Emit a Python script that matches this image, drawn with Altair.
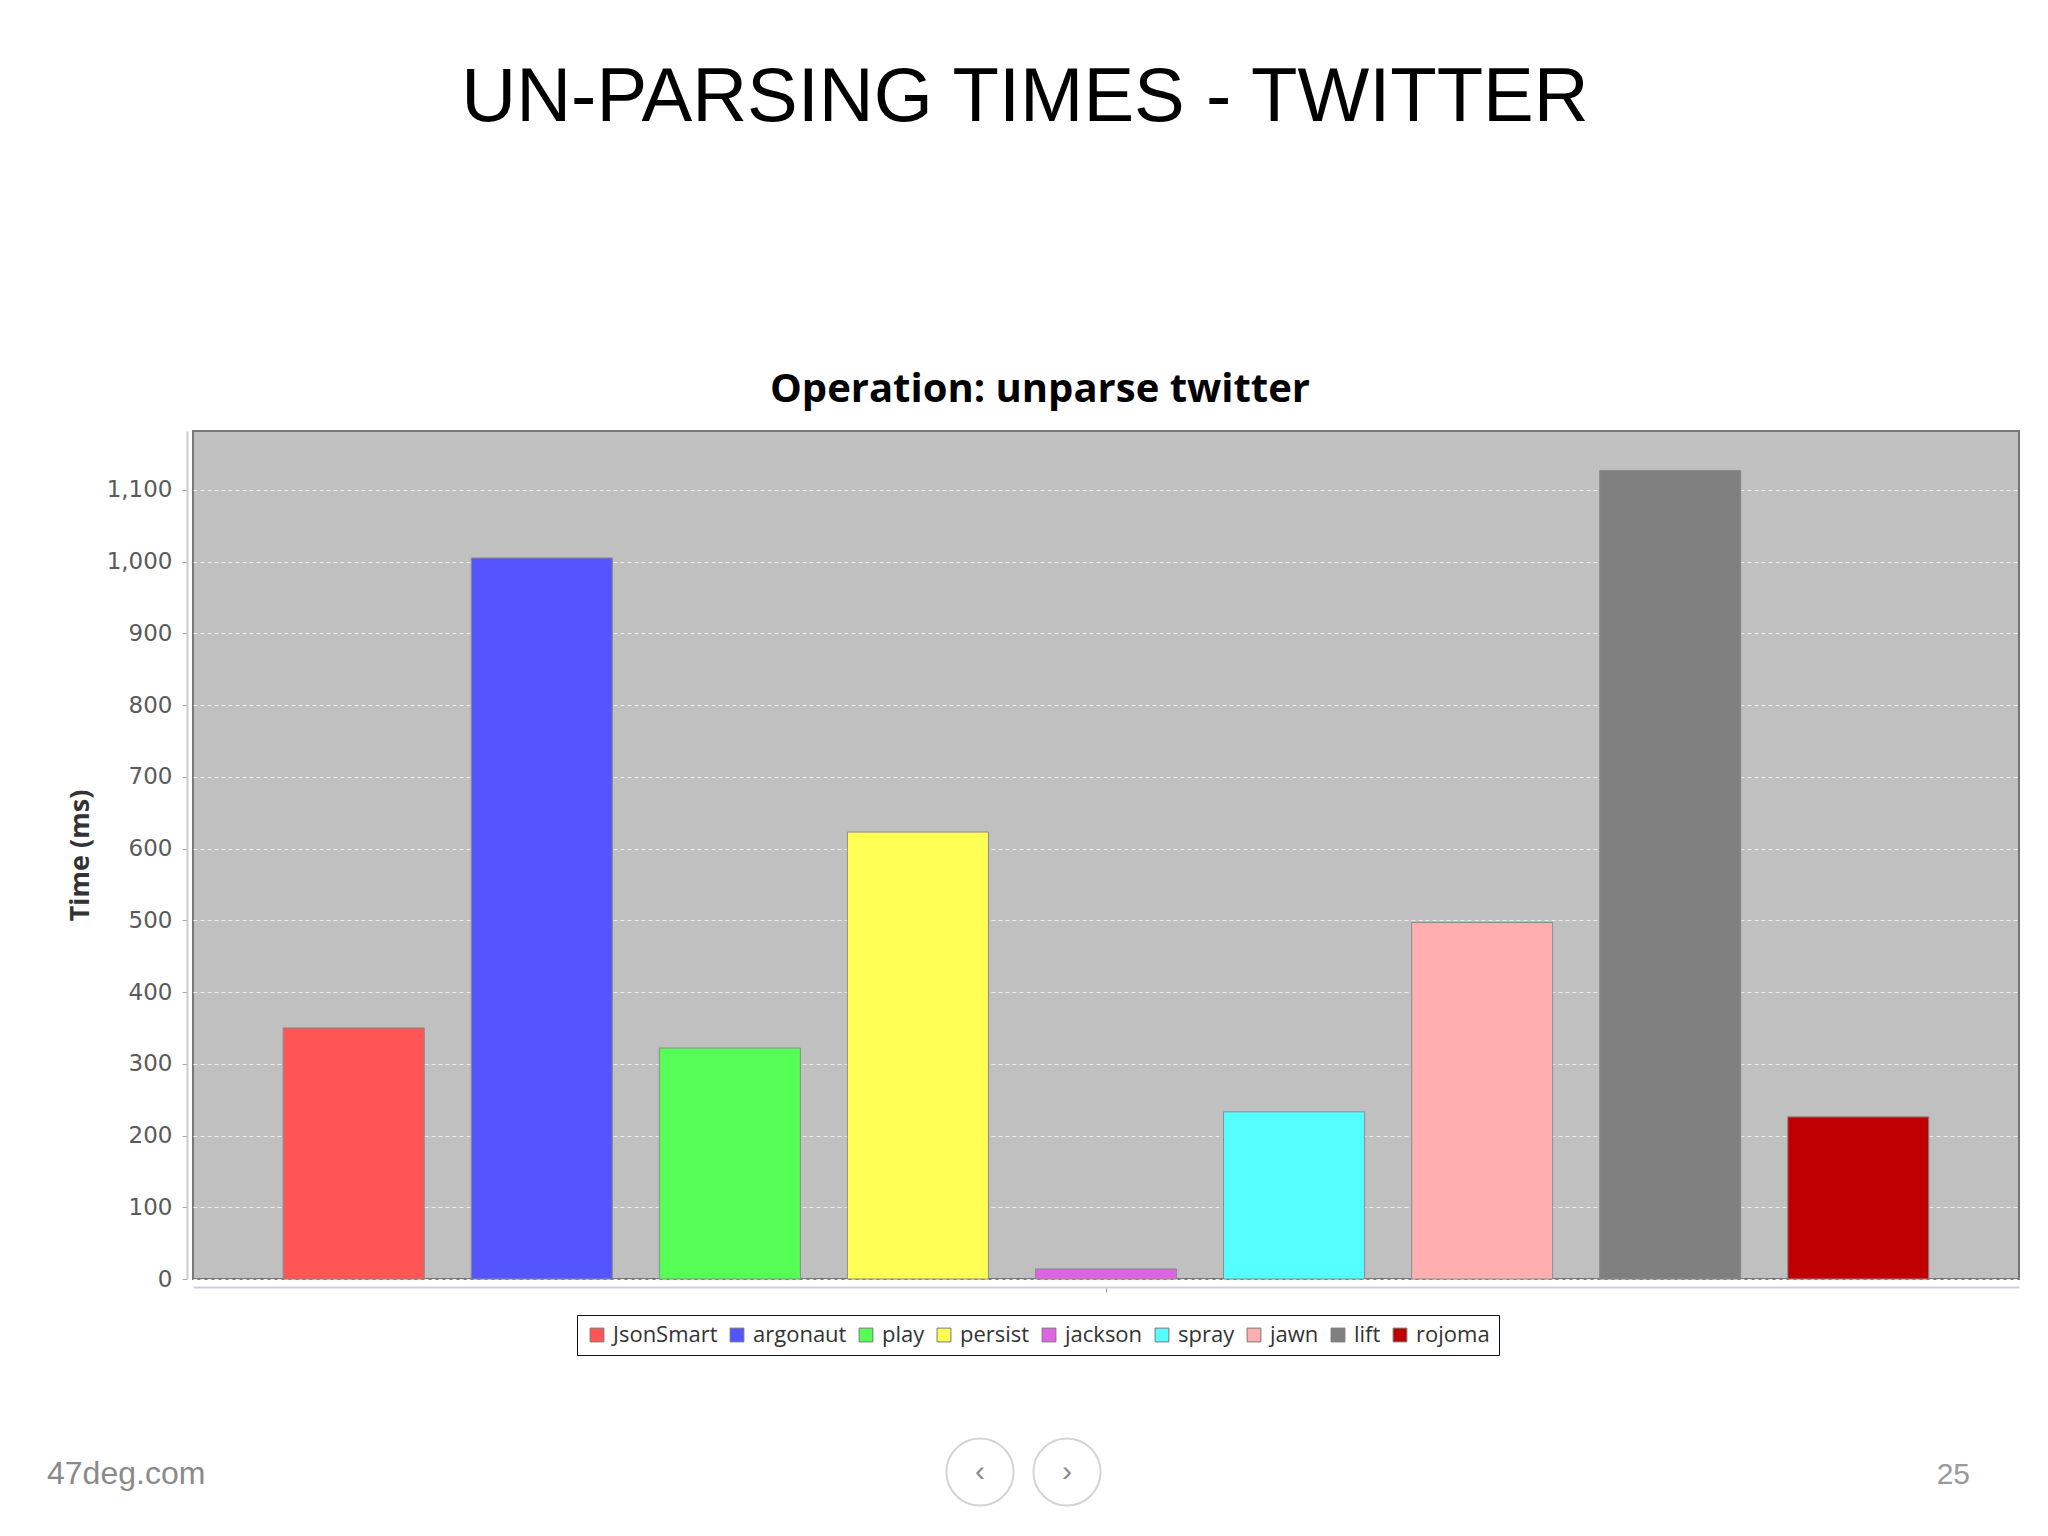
import altair as alt
import pandas as pd

# ---- data ----
series = ["JsonSmart", "argonaut", "play", "persist", "jackson", "spray", "jawn", "lift", "rojoma"]
times = [350, 1005, 322, 623, 14, 233, 497, 1127, 226]
colors = ["#FF5555", "#5555FF", "#55FF55", "#FFFF55", "#DD66E0", "#55FFFF", "#FFAFAF", "#808080", "#C00000"]
category = "twitter"
y_ticks = list(range(0, 1200, 100))

slide_title = "UN-PARSING TIMES - TWITTER"
chart_title = "Operation: unparse twitter"
footer_left = "47deg.com"
footer_right = "25"

df = pd.DataFrame({"cat": [category] * len(series), "series": series, "time": times})

W, H = 1826, 848

bars = alt.Chart(df).mark_bar(stroke="#8a8a8a", strokeWidth=1).encode(
    x=alt.X("cat:N",
            scale=alt.Scale(paddingInner=0, paddingOuter=0.0394),
            axis=alt.Axis(labels=False, title=None, domainColor="#cfcfdc", domainWidth=2,
                          tickColor="#999999", tickSize=5, offset=8, grid=False)),
    xOffset=alt.XOffset("series:N", sort=series,
                        scale=alt.Scale(paddingInner=0.25, paddingOuter=0.125)),
    y=alt.Y("time:Q",
            scale=alt.Scale(domain=[0, 1182], nice=False, zero=True),
            axis=alt.Axis(values=y_ticks, format=",d", title="Time (ms)",
                          labelFont="DejaVu Sans", labelFontSize=23, labelColor="#5a5a5a",
                          labelPadding=10,
                          domainColor="#cccccc", domainWidth=2, tickColor="#aaaaaa", tickSize=5,
                          offset=6,
                          titleFont="Open Sans", titleFontSize=27, titleFontWeight="bold",
                          titleColor="#333333", titlePadding=12,
                          grid=True, gridColor="#eeeeee", gridDash=[4, 3], gridWidth=1)),
    color=alt.Color("series:N", sort=series,
                    scale=alt.Scale(domain=series, range=colors),
                    legend=alt.Legend(title=None, orient="none", legendX=384, legendY=884,
                                      direction="horizontal", columns=9,
                                      symbolType="square", symbolSize=190,
                                      symbolStrokeColor="#777777", symbolStrokeWidth=1,
                                      labelFont="Open Sans", labelFontSize=22, labelColor="#333333",
                                      labelOffset=5, columnPadding=8,
                                      strokeColor="#111111", fillColor="white", padding=9)),
)

def txt(s, x, y, **kw):
    return alt.Chart(pd.DataFrame({"t": [s]})).mark_text(**kw).encode(
        x=alt.value(x), y=alt.value(y), text="t:N")

main_t = txt(slide_title, 832, -310, font="Liberation Sans", fontSize=76, color="black",
             align="center", baseline="alphabetic")
sub_t = txt(chart_title, 847, -29, font="Open Sans", fontSize=40, fontWeight="bold",
            color="black", align="center", baseline="alphabetic")
foot_l = txt(footer_left, -146, 1053, font="Liberation Sans", fontSize=32, color="#8a8a8a",
             align="left", baseline="alphabetic")
foot_r = txt(footer_right, 1777, 1053, font="Liberation Sans", fontSize=30, color="#999999",
             align="right", baseline="alphabetic")

def circ(x, y):
    return alt.Chart(pd.DataFrame({"k": [0]})).mark_point(
        shape="circle", size=4500, filled=False, stroke="#d4d4d8", strokeWidth=2, opacity=1
    ).encode(x=alt.value(x), y=alt.value(y))

c1 = circ(787, 1041)
c2 = circ(874, 1041)
a1 = txt("‹", 787, 1041, font="Liberation Sans", fontSize=30, color="#888888",
         align="center", baseline="middle")
a2 = txt("›", 874, 1041, font="Liberation Sans", fontSize=30, color="#888888",
         align="center", baseline="middle")

chart = alt.layer(bars, main_t, sub_t, foot_l, foot_r, c1, c2, a1, a2).properties(
    width=W, height=H,
    autosize=alt.AutoSizeParams(type="none"),
    padding={"left": 185, "top": 423, "right": 20, "bottom": 240},
    background="white",
).configure_view(fill="#c0c0c0", stroke="#777777", strokeWidth=2)

chart.save("out.html", embed_options={"renderer": "svg", "actions": False})
